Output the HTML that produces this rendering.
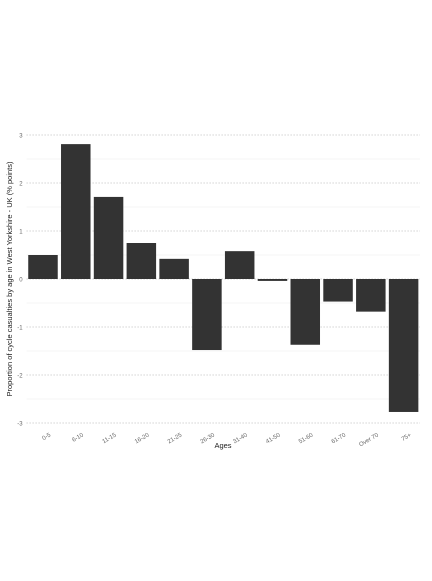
<!DOCTYPE html>
<html><head><meta charset="utf-8"><style>
body{margin:0;background:#fff;width:432px;height:576px;overflow:hidden;font-family:"Liberation Sans",sans-serif}
</style></head><body>
<svg id="chart" width="432" height="576" xmlns="http://www.w3.org/2000/svg">
<g id="grid"></g>
<g id="bars"></g>
<g id="yaxis"></g>
<g id="xaxis"></g>
<text transform="translate(12,279) rotate(-90)" text-anchor="middle" font-size="7.5" fill="#222">Proportion of cycle casualties by age in West Yorkshire - UK (% points)</text>
<text x="223" y="448" text-anchor="middle" font-size="7.5" fill="#222">Ages</text>
</svg>
<script>
const categories=["0-5","6-10","11-15","16-20","21-25","26-30","31-40","41-50","51-60","61-70","Over 70","75+"];
const values=[0.5,2.81,1.71,0.75,0.42,-1.48,0.58,-0.04,-1.37,-0.47,-0.68,-2.77];
const yTicks=[-3,-2,-1,0,1,2,3];
const L=26.6,R=420,Y0=279,PPU=48;
const band=(R-L)/categories.length;
const xs=i=>L+band*i+band/2;
const ys=v=>Y0-v*PPU;
const NS="http://www.w3.org/2000/svg";
function mk(t,a,p){const e=document.createElementNS(NS,t);for(const k in a)e.setAttribute(k,a[k]);p.appendChild(e);return e;}
const grid=document.getElementById('grid'),bars=document.getElementById('bars'),ya=document.getElementById('yaxis'),xa=document.getElementById('xaxis');
for(let v=-2.5;v<=2.5;v+=1){const l=mk('line',{x1:L,x2:R,y1:ys(v),y2:ys(v),stroke:'#ebebeb','stroke-width':0.6},grid);

}
yTicks.forEach(v=>{const l=mk('line',{x1:L,x2:R,y1:ys(v),y2:ys(v),stroke:'#bdbdbd','stroke-width':0.9,'stroke-dasharray':'1 2'},grid);


const t=mk('text',{x:L-4,y:ys(v)+2.5,'text-anchor':'end','font-size':6,fill:'#666'},ya);


t.textContent=v;});
categories.forEach((c,i)=>{const v=values[i];const w=band*0.9;
const r=mk('rect',{x:xs(i)-w/2,y:Math.min(ys(v),Y0),width:w,height:Math.abs(ys(v)-Y0),fill:'#333333'},bars);


const t=mk('text',{transform:`translate(${xs(i)+8},${ys(-3)+13}) rotate(-30)`,'text-anchor':'end','font-size':6,fill:'#666'},xa);


t.textContent=c;});
</script>
</body></html>
